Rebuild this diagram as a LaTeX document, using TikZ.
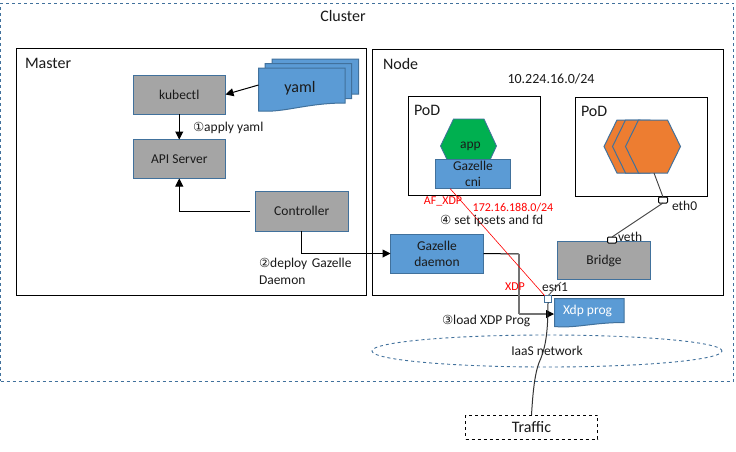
\documentclass[tikz,border=0pt]{standalone}
\usepackage{fontspec}
\setmainfont{Carlito}
\newfontfamily\circfont{DejaVu Sans}
\usetikzlibrary{arrows.meta,calc,shapes.geometric}
\definecolor{bgray}{HTML}{A5A5A5}
\definecolor{bblue}{HTML}{5B9BD5}
\definecolor{edgeblue}{HTML}{41719C}
\definecolor{bgreen}{HTML}{00B050}
\definecolor{borange}{HTML}{ED7D31}
\definecolor{dlabel}{HTML}{1A1A1A}
\tikzset{
  every node/.style={inner sep=0pt,outer sep=0pt,font=\fontsize{13.5}{16}\selectfont,text=dlabel},
  frame/.style={draw=black,line width=1pt,anchor=north west,fill=white},
  graybox/.style={draw=edgeblue,line width=1pt,fill=bgray,anchor=north west,align=center},
  bluebox/.style={draw=edgeblue,line width=1pt,fill=bblue,anchor=north west,align=center},
  docshape/.style={draw=edgeblue,line width=1pt,fill=bblue},
  hexgreen/.style={draw=edgeblue,line width=.8pt,fill=bgreen},
  hexorange/.style={draw=edgeblue,line width=1pt,fill=borange},
  big/.style={font=\fontsize{16}{18}\selectfont},
  redlabel/.style={text=red,font=\fontsize{12}{14}\selectfont},
  conn/.style={draw=black,line width=1pt,-{Triangle[length=8pt,width=8pt]}},
  thinline/.style={draw=black!75,line width=.9pt},
  porttop/.style={draw=black,line width=1pt,fill=white,rounded corners=1pt,minimum width=9pt,minimum height=6pt},
}
\newcommand{\docpath}[5]{% x y w h drop
  (#1,#2) -- ++(#3,0) -- ++(0,#4-#5)
  .. controls ($(#1,#2)+(#3*.55,#4-#5)$) and ($(#1,#2)+(#3*.3,#4+2)$) .. ($(#1,#2)+(0,#4)$) -- cycle}
\newcommand{\hexpath}[6]{% xl xtl xtr xr ytop ybot
  (#1,{(#5+#6)/2}) -- (#2,#5) -- (#3,#5) -- (#4,{(#5+#6)/2}) -- (#3,#6) -- (#2,#6) -- cycle}
\newcommand{\circd}[1]{{\circfont\fontsize{12.5}{14}\selectfont #1}}
\begin{document}
\begin{tikzpicture}[x=1pt,y=-1pt]
\useasboundingbox (0,0) rectangle (736,451);
\fill[white] (0,0) rectangle (736,451);
% cluster
\node[draw=edgeblue,dashed,line width=.9pt,anchor=north west,minimum width=733pt,minimum height=378pt] (cluster) at (.5,3) {};
\node[big,anchor=center] (clusterlabel) at (343,15.5) {Cluster};
% frames
\node[frame,minimum width=350pt,minimum height=247pt] (master) at (16,48) {};
\node[frame,minimum width=351pt,minimum height=246pt] (nodeframe) at (372,49) {};
\node[big,anchor=west] (masterlabel) at (25,63.5) {Master};
\node[big,anchor=west] (nodelabel) at (383,63.5) {Node};
\node[font=\fontsize{14}{16}\selectfont] (subnet) at (551,78.5) {10.224.16.0/24};
% master boxes
\node[graybox,minimum width=92.5pt,minimum height=39pt] (kubectl) at (133,75) {kubectl};
\node[graybox,minimum width=92.5pt,minimum height=39pt] (api) at (133,139.5) {API Server};
\node[graybox,minimum width=92.5pt,minimum height=40pt] (controller) at (255.5,191) {Controller};
% yaml stack
\draw[docshape] \docpath{272}{59}{86.5}{43}{8};
\draw[docshape] \docpath{265}{63.5}{86.5}{43}{8};
\draw[docshape] \docpath{258.5}{68}{86.5}{43}{8};
\node[big] (yaml) at (300,88.5) {yaml};
\coordinate (yamlout) at (258.5,85);
% pods
\node[frame,minimum width=132pt,minimum height=99pt] (pod1) at (408,96) {};
\node[frame,minimum width=132pt,minimum height=99pt] (pod2) at (575,97) {};
\node[big,anchor=west] (pod1label) at (414,110.5) {PoD};
\node[big,anchor=west] (pod2label) at (581,111.5) {PoD};
% app hexagon
\draw[hexgreen] \hexpath{440.5}{453.5}{484}{496.5}{119}{173};
\node (app) at (470.5,146.5) {app};
\node[bluebox,minimum width=75pt,minimum height=29pt,font=\fontsize{13.5}{16.5}\selectfont] (cni) at (435.5,159.5) {Gazelle\\cni};
% orange hexagons
\draw[hexorange] \hexpath{604}{617}{640}{660}{120}{173};
\draw[hexorange] \hexpath{612.5}{625.5}{650}{670}{120}{173};
\draw[hexorange] \hexpath{625.5}{638.5}{667.5}{680.5}{120}{173};
\coordinate (hexout) at (654,173);
% lower node boxes
\node[bluebox,minimum width=93pt,minimum height=39pt,font=\fontsize{13.5}{16}\selectfont] (daemon) at (390.5,234) {Gazelle\\daemon};
\node[graybox,minimum width=93pt,minimum height=38pt] (bridge) at (557.5,241.5) {Bridge};
% ports
\node[porttop] (eth0) at (663,200) {};
\node[porttop] (veth) at (612,240) {};
\node[anchor=west] (eth0label) at (672,205.5) {eth0};
\node[anchor=west] (vethlabel) at (618,236.5) {veth};
% xdp prog
\draw[docshape] \docpath{554.5}{298.5}{69.5}{28}{4};
\node[text=white] (xdpprog) at (587.5,310.5) {Xdp prog};
% ellipse
\node[draw=edgeblue,dashed,line width=.9pt,ellipse,minimum width=350pt,minimum height=32pt] (iaas) at (547,351) {};
\node (iaaslabel) at (547,350.5) {IaaS network};
% traffic
\node[draw=black,dashed,line width=.9pt,minimum width=132pt,minimum height=24pt,anchor=north west,font=\fontsize{16}{18}\selectfont] (traffic) at (465.5,415) {Traffic};
% esn1 port
\node[draw=edgeblue,line width=1pt,fill=white,minimum width=6.5pt,minimum height=6.5pt] (esn1) at (548,299) {};
\node (esn1label) at (555,287.5) {esn1};
\coordinate (esn1tick) at (561,282);
\draw[thinline,draw=black!60] (esn1.north) -- (esn1tick);
% connectors
\draw[conn] (yamlout) -- (kubectl.east);
\draw[conn] (kubectl.south) -- (api.north);
\coordinate (ctlleft) at (250,211);
\draw[conn] (ctlleft) -| (api.south);
\coordinate (ctlout) at (301,231);
\draw[conn] (ctlout) |- (daemon.west);
\coordinate (bendtop) at (519,254);
\coordinate (bendbot) at (519,314);
\coordinate (xdpin) at (554,314);
\draw[black,line width=1pt] (daemon.east) -- (bendtop);
\draw[black!55,line width=1.6pt] (bendtop) -- (bendbot);
\draw[black!55,line width=1.6pt] (bendbot) -- (546,314);
\draw[conn] (546,314) -- (xdpin);
\coordinate (cniout) at (450,188.5);
\draw[red,line width=.6pt] (cniout) -- (esn1.north west);
\coordinate (eth0in) at (663,197);
\draw[thinline] (hexout) -- (eth0in);
\draw[thinline] (eth0.south) -- (veth.north);
\draw[black!80,line width=1pt] (esn1.south) .. controls (548,330) and (546,345) .. (541,358) .. controls (535,370) and (533,390) .. (traffic.north);
% labels
\node[anchor=west] (l1) at (193,127.5) {\circd{①}apply yaml};
\node[anchor=west,align=left,text width=110pt,font=\fontsize{13.5}{17}\selectfont] (l2) at (259,271.5) {\circd{②}deploy Gazelle\\Daemon};
\node[anchor=west] (l3) at (442,321) {\circd{③}load XDP Prog};
\node[anchor=west] (l4) at (440,220.5) {\circd{④} set ipsets and fd};
\node[redlabel] (afxdp) at (443,201) {AF\_XDP};
\node[redlabel] (ip172) at (513,208) {172.16.188.0/24};
\node[redlabel] (xdp) at (515,287) {XDP};
\end{tikzpicture}
\end{document}
